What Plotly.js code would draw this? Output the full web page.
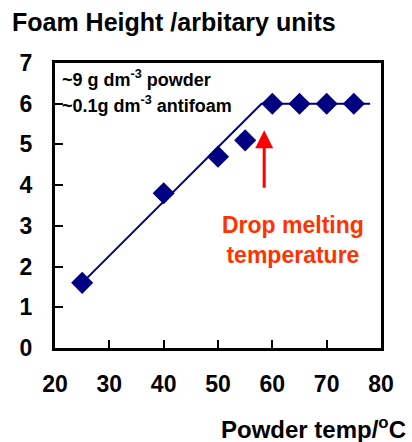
<!DOCTYPE html>
<html>
<head>
<meta charset="utf-8">
<script src="https://cdn.plot.ly/plotly-3.0.1.min.js"></script>
<style>html,body{margin:0;padding:0;background:#fff;}#chart{width:412px;height:442px;}</style>
</head>
<body>
<div id="chart"></div>
<script>
// Data
const temps = [25, 40, 50, 55, 60, 65, 70, 75];
const foamHeight = [1.6, 3.8, 4.7, 5.1, 6, 6, 6, 6];
const fitX = [25, 58, 78];
const fitY = [1.6, 6, 6];
const xTicks = [20, 30, 40, 50, 60, 70, 80];
const yTicks = [0, 1, 2, 3, 4, 5, 6, 7];

const navy = '#000080';
const font = 'Liberation Sans, Arial, sans-serif';
const bold = (size, color) => ({size: size, family: font, color: color || '#000', weight: 'bold'});

const traces = [
  {x: fitX, y: fitY, mode: 'lines', line: {color: navy, width: 2}, hoverinfo: 'skip', showlegend: false},
  {x: temps, y: foamHeight, mode: 'markers', marker: {symbol: 'diamond', size: 17, color: navy}, showlegend: false}
];

const layout = {
  width: 412, height: 442,
  margin: {l: 55, r: 31, t: 63, b: 94},
  paper_bgcolor: '#fff', plot_bgcolor: '#fff',
  font: {family: font, color: '#000'},
  title: {text: 'Foam Height /arbitary units', font: bold(25),
          xref: 'container', x: 12/412, xanchor: 'left', yref: 'container', y: 1 - 22/442, yanchor: 'middle'},
  xaxis: {range: [20, 80], tickvals: xTicks, ticktext: xTicks.map(String),
          ticks: 'inside', ticklen: 8, tickwidth: 2, tickcolor: '#000',
          showline: true, linewidth: 3, linecolor: '#000', mirror: true,
          showgrid: false, zeroline: false, tickfont: bold(23), ticklabelstandoff: 13},
  yaxis: {range: [0, 7], tickvals: yTicks, ticktext: yTicks.map(String),
          ticks: 'inside', ticklen: 8, tickwidth: 2, tickcolor: '#000',
          showline: true, linewidth: 3, linecolor: '#000', mirror: true,
          showgrid: false, zeroline: false, tickfont: bold(23), ticklabelstandoff: 15},
  annotations: [
    {text: '~9 g dm<sup>-3</sup> powder', xref: 'paper', yref: 'y', x: 0.015, y: 6.62, xanchor: 'left', yanchor: 'middle',
     showarrow: false, font: bold(18)},
    {text: '~0.1g dm<sup>-3</sup> antifoam', xref: 'paper', yref: 'y', x: 0.015, y: 5.98, xanchor: 'left', yanchor: 'middle',
     showarrow: false, font: bold(18)},
    {text: '', xref: 'x', yref: 'y', x: 58.5, y: 5.35, ax: 58.5, ay: 3.9, axref: 'x', ayref: 'y',
     showarrow: true, arrowhead: 2, arrowsize: 1.2, arrowwidth: 3, arrowcolor: '#ff0000'},
    {text: 'Drop melting<br>temperature', xref: 'x', yref: 'y', x: 63.8, y: 2.65, xanchor: 'center', yanchor: 'middle',
     showarrow: false, font: bold(23, '#ff3300')},
    {text: 'Powder temp/<sup>o</sup>C', xref: 'paper', yref: 'paper', x: (408 - 55) / 326, y: (348 - 445) / 285, xanchor: 'right', yanchor: 'bottom',
     showarrow: false, font: bold(24)}
  ]
};

Plotly.newPlot('chart', traces, layout, {displayModeBar: false, staticPlot: true});
</script>
</body>
</html>
